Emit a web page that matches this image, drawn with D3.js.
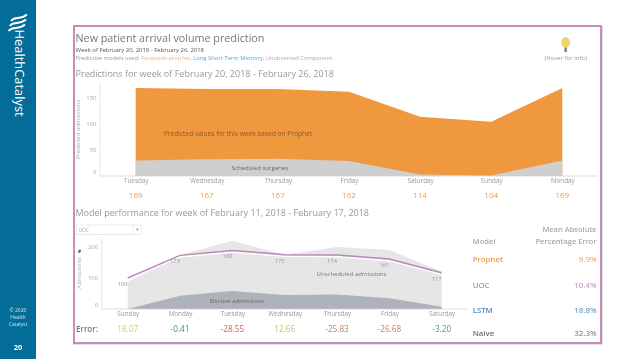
<!DOCTYPE html>
<html>
<head>
<meta charset="utf-8">
<script src="https://d3js.org/d3.v7.min.js"></script>
<style>
    html, body { margin: 0; padding: 0; background: #fff; }
    svg { display: block; }
    text { font-family: "Open Sans", sans-serif; }
    #content { filter: blur(0.35px); }
</style>
</head>
<body>
<div id="chart"></div>
<script>
// prediction week
const predDays = ["Tuesday", "Wednesday", "Thursday", "Friday", "Saturday", "Sunday", "Monday"];
const predicted = [169, 167, 167, 162, 114, 104, 169];
const scheduled = [30, 32, 33, 29, 3, 1, 30];
const predTicks = [0, 50, 100, 150];

// model performance week
const perfDays = ["Sunday", "Monday", "Tuesday", "Wednesday", "Thursday", "Friday", "Saturday"];
const actualTotal = [88, 174, 220, 175, 200, 190, 120];
const elective = [0, 43, 58, 45, 47, 35, 7];
const uoc = [100, 173, 189, 175, 174, 161, 117];
const errors = [18.07, -0.41, -28.55, 12.66, -25.83, -26.68, -3.20];
const errorColors = ["#e6c766", "#3f8f72", "#c8664e", "#b9c765", "#d8784a", "#cf7f4c", "#4f9f72"];
const perfTicks = [0, 100, 200];

// MAPE table
const models = ["Prophet", "UOC", "LSTM", "Naive"];
const mape = ["9.9%", "10.4%", "18.8%", "32.3%"];
const modelColors = ["#ef9a45", "#b98ab5", "#4f86b5", "#6b6f73"];
const modelRows = [259.5, 285, 310.5, 333.5];

const svg = d3.select("#chart").append("svg")
    .attr("width", 638)
    .attr("height", 359);

const root = svg.append("g").attr("id", "content");

// Sidebar
root.append("rect").attr("width", 36).attr("height", 359).attr("fill", "#046c99");

const wave = root.append("g").attr("fill", "none").attr("stroke", "#fff").attr("stroke-width", 1.9);
[0, 5, 10].forEach(d => {
    wave.append("path")
        .attr("d", `M${11 - d * 0.25},${21 + d} C${15 - d * 0.2},${15.5 + d} ${20 - d * 0.2},${20.5 + d} ${27 - d * 0.2},${14.5 + d}`);
});

root.append("text")
    .attr("transform", "translate(15,29.5) rotate(90)")
    .attr("font-size", 12.9)
    .attr("fill", "#fff")
    .text("HealthCatalyst");

const copy = root.append("g").attr("text-anchor", "middle").attr("fill", "#cfe2ec").attr("font-size", 5);
["© 2020", "Health", "Catalyst"].forEach((t, i) => {
    copy.append("text").attr("x", 18).attr("y", 312 + i * 6.8).text(t);
});
root.append("text").attr("x", 18).attr("y", 350).attr("text-anchor", "middle")
    .attr("fill", "#fff").attr("font-size", 7.5).attr("font-weight", "bold").text("20");

// Frame
root.append("rect").attr("x", 74).attr("y", 26).attr("width", 527).attr("height", 317)
    .attr("fill", "#fff").attr("stroke", "#c070aa").attr("stroke-width", 1.6);
root.append("path").attr("d", "M73,344 H602 V26").attr("fill", "none").attr("stroke", "#999").attr("stroke-width", 0.6);

// Headings
root.append("text").attr("x", 75.5).attr("y", 42).attr("font-size", 10.75).attr("fill", "#777").text("New patient arrival volume prediction");
root.append("text").attr("x", 75.5).attr("y", 52).attr("font-size", 5.95).attr("fill", "#555").text("Week of February 20, 2018 - February 26, 2018");

const used = root.append("text").attr("x", 75.5).attr("y", 60).attr("font-size", 5.8).attr("fill", "#999");
used.append("tspan").text("Predictive models used: ");
used.append("tspan").attr("fill", "#f2b277").text("Facebook prophet");
used.append("tspan").text(", ");
used.append("tspan").attr("fill", "#5aa9d6").text("Long Short-Term Memory");
used.append("tspan").text(", ");
used.append("tspan").attr("fill", "#c79cc2").text("Unobserved Component");

root.append("text").attr("x", 75.5).attr("y", 77).attr("font-size", 9.05).attr("fill", "#999").text("Predictions for week of February 20, 2018 - February 26, 2018");
root.append("text").attr("x", 75.5).attr("y", 216).attr("font-size", 9).attr("fill", "#999").text("Model performance for week of February 11, 2018 - February 17, 2018");

// Hover bulb
root.append("ellipse").attr("cx", 565.7).attr("cy", 42.5).attr("rx", 4).attr("ry", 5).attr("fill", "#f3d469").attr("stroke", "#d8b84c").attr("stroke-width", 0.4);
root.append("rect").attr("x", 564.4).attr("y", 47.5).attr("width", 2.6).attr("height", 4.5).attr("fill", "#888");
root.append("text").attr("x", 565.7).attr("y", 60).attr("text-anchor", "middle").attr("font-size", 6).attr("fill", "#999").text("(Hover for info)");

// Top chart
const xPred = d3.scalePoint().domain(predDays).range([135.7, 562.3]);
const yPred = d3.scaleLinear().domain([0, 169]).range([176, 88]);

const predArea = d3.area()
    .x((d, i) => xPred(predDays[i]))
    .y0(yPred(0))
    .y1(d => yPred(d));

root.append("path").datum(predicted).attr("fill", "#f0983e").attr("d", predArea);
root.append("path").datum(scheduled).attr("fill", "#cfcfcf").attr("d", predArea);

const predAxisY = root.append("g")
    .attr("transform", "translate(100,0)")
    .call(d3.axisLeft(yPred).tickValues(predTicks).tickSize(0).tickPadding(3.5));
predAxisY.select(".domain").remove();
predAxisY.selectAll("text").attr("font-size", 6).attr("fill", "#aaa").attr("font-family", "Open Sans")
    .attr("dy", d => d === 0 ? "-0.4em" : "0.32em");

root.append("line").attr("x1", 100).attr("x2", 598).attr("y1", yPred(0)).attr("y2", yPred(0)).attr("stroke", "#ccc").attr("stroke-width", 0.7);
root.append("line").attr("x1", 100).attr("x2", 100).attr("y1", 83).attr("y2", yPred(0)).attr("stroke", "#ddd").attr("stroke-width", 0.7);

const predAxisX = root.append("g")
    .attr("transform", `translate(0,${yPred(0)})`)
    .call(d3.axisBottom(xPred).tickSize(0).tickPadding(3));
predAxisX.select(".domain").remove();
predAxisX.selectAll("text").attr("font-size", 6.3).attr("fill", "#999").attr("font-family", "Open Sans");

root.append("text").attr("transform", "translate(80,129.5) rotate(-90)").attr("text-anchor", "middle")
    .attr("font-size", 6).attr("fill", "#aaa").text("Predicted admissions");

root.append("text").attr("x", 238).attr("y", 135.7).attr("text-anchor", "middle").attr("font-size", 6.6).attr("fill", "#8a5a2a").text("Predicted values for this week based on Prophet");
root.append("text").attr("x", 260).attr("y", 169.7).attr("text-anchor", "middle").attr("font-size", 6).attr("fill", "#666").text("Scheduled surgeries");

root.selectAll(".pred-value")
    .data(predicted)
    .enter().append("text")
    .attr("class", "pred-value")
    .attr("x", (d, i) => xPred(predDays[i]))
    .attr("y", 198.3)
    .attr("text-anchor", "middle")
    .attr("font-size", 8)
    .attr("fill", "#ef9a45")
    .text(d => d);

// Dropdown
root.append("rect").attr("x", 76.5).attr("y", 225).attr("width", 65).attr("height", 9.5).attr("fill", "#fff").attr("stroke", "#ddd").attr("stroke-width", 0.6);
root.append("line").attr("x1", 133).attr("x2", 133).attr("y1", 225).attr("y2", 234.5).attr("stroke", "#ddd").attr("stroke-width", 0.6);
root.append("text").attr("x", 78.5).attr("y", 231.8).attr("font-size", 4.8).attr("fill", "#aaa").text("UOC");
root.append("path").attr("d", "M136,228.8 h3 l-1.5,2 z").attr("fill", "#888");

// Bottom chart
const xPerf = d3.scalePoint().domain(perfDays).range([127.7, 441.7]);
const yPerf = d3.scaleLinear().domain([0, 200]).range([309, 247]);

const perfArea = d3.area()
    .x((d, i) => xPerf(perfDays[i]))
    .y0(yPerf(0))
    .y1(d => yPerf(d));

root.append("path").datum(actualTotal).attr("fill", "#e6e6e7").attr("d", perfArea);
root.append("path").datum(elective).attr("fill", "#aeb3b9").attr("d", perfArea);

const perfAxisY = root.append("g")
    .attr("transform", "translate(101.7,0)")
    .call(d3.axisLeft(yPerf).tickValues(perfTicks).tickSize(0).tickPadding(3.5));
perfAxisY.select(".domain").remove();
perfAxisY.selectAll("text").attr("font-size", 6).attr("fill", "#aaa").attr("font-family", "Open Sans")
    .attr("dy", d => d === 0 ? "-0.4em" : "0.32em");

root.append("line").attr("x1", 101.7).attr("x2", 467).attr("y1", yPerf(0)).attr("y2", yPerf(0)).attr("stroke", "#ccc").attr("stroke-width", 0.7);
root.append("line").attr("x1", 101.7).attr("x2", 101.7).attr("y1", 239).attr("y2", yPerf(0)).attr("stroke", "#ddd").attr("stroke-width", 0.7);

const perfAxisX = root.append("g")
    .attr("transform", `translate(0,${yPerf(0)})`)
    .call(d3.axisBottom(xPerf).tickSize(0).tickPadding(3));
perfAxisX.select(".domain").remove();
perfAxisX.selectAll("text").attr("font-size", 6.3).attr("fill", "#999").attr("font-family", "Open Sans");

const uocLine = d3.line()
    .x((d, i) => xPerf(perfDays[i]))
    .y(d => yPerf(d));

root.append("path").datum(uoc).attr("fill", "none").attr("stroke", "#fff").attr("stroke-width", 1.4)
    .attr("transform", "translate(0,1.6)").attr("d", uocLine);
root.append("path").datum(uoc).attr("fill", "none").attr("stroke", "#b98ab5").attr("stroke-width", 1.5).attr("d", uocLine);

root.selectAll(".uoc-label")
    .data(uoc)
    .enter().append("text")
    .attr("class", "uoc-label")
    .attr("x", (d, i) => xPerf(perfDays[i]) - 5)
    .attr("y", d => yPerf(d) + 8)
    .attr("text-anchor", "middle")
    .attr("font-size", 5.8)
    .attr("fill", "#a98aa8")
    .text(d => d);

root.append("text").attr("transform", "translate(81,273) rotate(-90)").attr("text-anchor", "middle")
    .attr("font-size", 6).attr("fill", "#aaa").text("Admissions");
root.append("path").attr("d", "M77.5,252 l2.2,-2.8 l1.6,1.2 l-1.4,2.6 z").attr("fill", "#666");

root.append("text").attr("x", 351.5).attr("y", 276).attr("text-anchor", "middle").attr("font-size", 6).attr("fill", "#777").text("Unscheduled admissions");
root.append("text").attr("x", 236.7).attr("y", 303).attr("text-anchor", "middle").attr("font-size", 6).attr("fill", "#666").text("Elective admissions");

root.append("text").attr("x", 76).attr("y", 331.7).attr("font-size", 8).attr("font-weight", 600).attr("fill", "#777").text("Error:");

root.selectAll(".error-value")
    .data(errors)
    .enter().append("text")
    .attr("class", "error-value")
    .attr("x", (d, i) => xPerf(perfDays[i]))
    .attr("y", 331.7)
    .attr("text-anchor", "middle")
    .attr("font-size", 8.2)
    .attr("fill", (d, i) => errorColors[i])
    .text(d => d.toFixed(2));

// Table
root.append("text").attr("x", 472.7).attr("y", 243.5).attr("font-size", 7.6).attr("font-weight", 600).attr("fill", "#aaa").text("Model");
root.append("text").attr("x", 596.7).attr("y", 232).attr("text-anchor", "end").attr("font-size", 7.5).attr("font-weight", 600).attr("fill", "#aaa").text("Mean Absolute");
root.append("text").attr("x", 596.7).attr("y", 243.5).attr("text-anchor", "end").attr("font-size", 7.5).attr("font-weight", 600).attr("fill", "#aaa").text("Percentage Error");

models.forEach((m, i) => {
    root.append("text").attr("x", 472.7).attr("y", modelRows[i] + 2.6).attr("font-size", 7.8).attr("font-weight", 600).attr("fill", modelColors[i]).text(m);
    root.append("text").attr("x", 596.7).attr("y", modelRows[i] + 2.6).attr("text-anchor", "end").attr("font-size", 8).attr("fill", modelColors[i]).text(mape[i]);
});
</script>
</body>
</html>
